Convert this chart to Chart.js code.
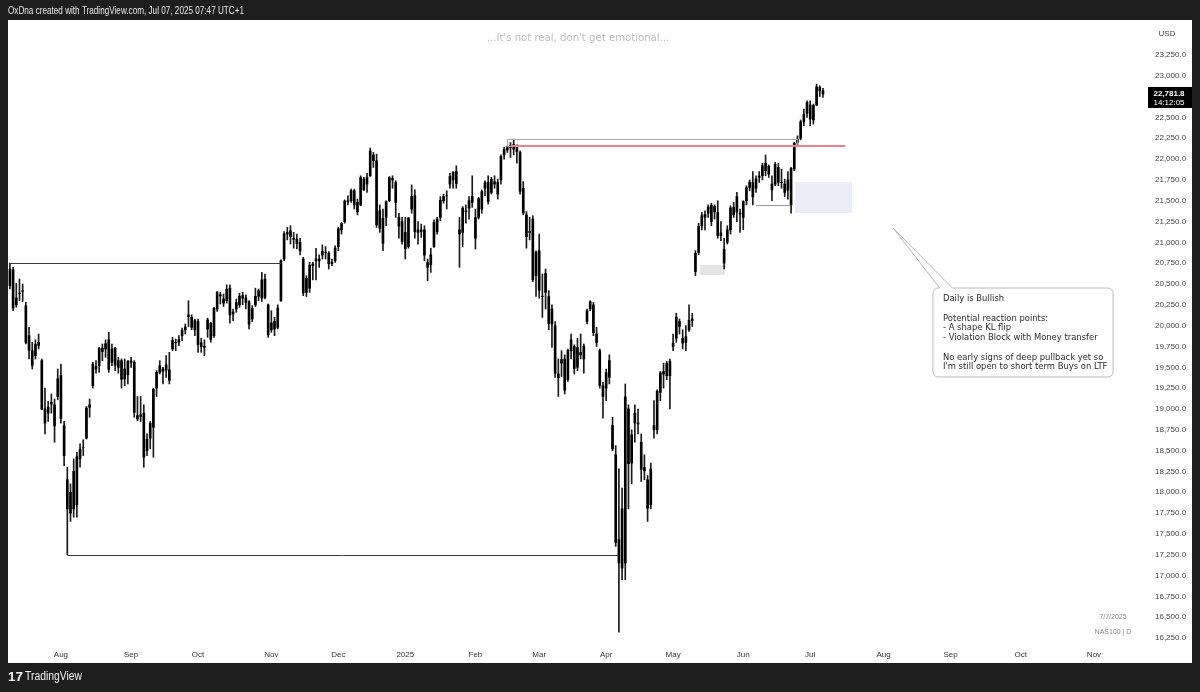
<!DOCTYPE html>
<html><head><meta charset="utf-8">
<script src="https://cdn.jsdelivr.net/npm/chart.js@4.4.1/dist/chart.umd.min.js"></script>
<style>html,body{margin:0;padding:0;background:#1e1e1e;}canvas{display:block;}</style>
</head><body>
<canvas id="c" width="1200" height="692"></canvas>
<script>
// Daily NAS100 candles, 10 Jul 2024 .. 7 Jul 2025 (index = trading day)
const opens = [
 20480,20670,20250,20390,20420,20240,19880,19700,19640,19800,19580,19000,18950,19080,19050,19150,
 19400,18800,18150,17750,18250,17850,18400,18540,18650,19050,19280,19480,19520,19730,19720,19830,19560,19730,19500,19580,19480,19410,
 19575,19560,18880,18910,18950,18500,18650,18780,19250,19440,19480,19530,19470,19720,19800,19800,19880,19950,20110,20100,19950,
 20050,19750,19740,19960,20030,19880,20200,20370,20320,20300,20450,20140,20280,20250,20330,20280,20290,20080,20250,20420,20330,20560,20250,
 19950,20050,19980,20300,20800,21100,21140,21050,21040,21000,20800,20400,20450,20720,20800,20800,20850,20880,20870,20745,20780,
 20950,21150,21250,21500,21500,21620,21480,21450,21760,21700,21800,22050,21980,21380,20990,21300,21500,21750,21720,21300,21250,
 21120,20950,21400,21560,21120,21150,21150,20700,20850,20950,21280,21300,21500,21560,21700,21750,21850,21150,21120,21380,21500,21550,
 21050,21300,21400,21650,21720,21600,21700,21580,21750,22050,22110,22140,22120,22150,22080,21650,21330,21120,21280,20600,
 20900,20350,20400,20350,20020,20000,19420,19550,19600,19350,19700,19750,19500,19650,19600,20050,20200,20250,19900,19700,19150,
 19250,19380,18800,18450,17150,17800,17150,19000,18350,18950,18820,18600,18300,18150,17850,18800,18750,19200,19450,19400,19400,
 19750,19850,20050,19850,19800,19950,20080,20650,20880,21200,21300,21350,21250,21430,21360,21080,20750,21000,21150,21420,21550,21350,
 21300,21500,21660,21720,21650,21780,21800,21950,21820,21700,21700,21900,21720,21700,21750,21450,21880,22200,22250,22450,22550,
 22650,22470,22650,22860,22820
];
const highs = [
 20750,20700,20510,20560,20500,20280,19980,19800,19830,19900,19600,19250,19090,19180,19120,19480,
 19540,18850,18300,18100,18400,18480,18580,18630,19030,19120,19560,19580,19740,19780,19830,19920,19780,19740,19620,19600,19600,19580,
 19620,19580,19150,19150,19050,18700,18850,19250,19460,19580,19500,19640,19680,19860,19840,19880,19970,20020,20300,20130,20080,
 20080,19850,19830,20090,20040,20220,20410,20400,20380,20490,20490,20200,20320,20390,20400,20370,20300,20240,20450,20440,20640,20620,20260,
 20180,20100,20250,20790,21130,21180,21200,21120,21100,21050,20820,20600,20760,20760,20930,20850,20970,20950,20890,20800,20960,
 21180,21240,21510,21560,21640,21640,21520,21800,21780,21830,22133,22080,22060,21450,21400,21500,21790,21800,21740,21350,21300,
 21300,21300,21690,21630,21250,21220,21200,20800,20930,21270,21300,21550,21580,21620,21830,21850,21920,21300,21430,21450,21550,21800,
 21400,21540,21630,21740,21800,21780,21800,21760,22050,22140,22160,22200,22240,22170,22100,21730,21370,21300,21320,20900,
 21100,20620,20680,20420,20250,20050,19600,19700,19650,19720,19900,19770,19850,19900,19780,20200,20300,20280,19980,19720,19320,
 19480,19650,18900,18560,18280,18050,19300,19050,18750,19050,19000,18700,18450,18200,18350,19100,19230,19450,19550,19570,19600,
 19900,20150,20080,19950,20000,20250,20150,20900,21230,21360,21380,21450,21470,21450,21500,21250,21050,21200,21440,21480,21600,21400,
 21500,21680,21750,21850,21800,21850,21950,22050,21930,21800,21960,21950,21880,21760,21850,21900,22200,22280,22470,22600,22700,
 22700,22660,22900,22880,22850
];
const lows = [
 20440,20180,20220,20300,20290,19780,19600,19480,19600,19720,18990,18700,18850,18950,18600,19110,
 18830,18320,17250,17650,17700,17700,18300,18440,18640,18900,19250,19430,19440,19580,19620,19440,19520,19460,19430,19250,19280,19300,
 19500,18900,18860,18850,18300,18440,18520,18420,19150,19420,19300,19380,19300,19700,19700,19760,19820,19900,19990,19950,19880,
 19680,19680,19640,19860,19800,19860,20170,20260,20230,20270,20030,20060,20160,20220,20250,20200,19960,20050,20230,20300,20290,20320,19860,
 19920,19880,19960,20290,20780,21030,20980,20930,20920,20850,20360,20350,20400,20550,20550,20700,20800,20800,20680,20720,20760,
 20900,21100,21230,21450,21480,21400,21330,21440,21620,21600,21790,21900,21180,21120,20900,21200,21490,21650,21300,21050,20980,
 20800,20930,21350,21050,20980,21060,20780,20540,20640,20940,21100,21260,21470,21400,21650,21650,21650,20700,20950,21230,21280,21420,
 20920,21280,21350,21560,21460,21580,21650,21520,21700,22000,22080,22020,22050,21950,21580,21330,20930,21030,20530,20350,
 20330,20100,20200,19950,19740,19380,19150,19390,19180,19330,19600,19420,19460,19600,19430,20020,20180,19880,19750,19250,18890,
 19100,19300,18500,17350,16320,16950,16950,17800,18100,18600,18700,18130,18150,17650,17800,18650,18700,19100,19250,19350,19000,
 19700,19800,19900,19720,19700,19930,19990,20600,20850,21150,21150,21300,21200,21280,21050,21020,20680,20980,21100,21300,21250,21120,
 21150,21450,21620,21450,21600,21720,21750,21800,21780,21500,21680,21680,21650,21550,21520,21350,21860,22150,22230,22400,22500,
 22400,22420,22640,22750,22740
];
const closes = [
 20676,20211,20332,20386,20413,19799,19706,19523,19774,19764,18997,18830,19023,19059,18796,19362,
 18885,18440,17800,18000,17800,18427,18513,18540,19010,19020,19540,19509,19727,19688,19783,19476,19720,19526,19580,19357,19360,19575,
 19560,18960,18920,18930,18421,18637,18829,19239,19439,19519,19453,19466,19344,19822,19794,19835,19945,19984,20128,19980,20061,
 19773,19794,19752,20069,19835,20208,20402,20357,20271,20440,20129,20163,20200,20354,20361,20334,20016,20207,20352,20352,20550,20340,19890,
 20033,19960,20212,20780,21102,21118,21071,21035,20985,20898,20394,20568,20726,20740,20780,20776,20893,20882,20743,20760,20930,
 21164,21226,21497,21490,21622,21449,21367,21778,21634,21780,22097,21980,21210,21170,21290,21491,21778,21768,21479,21195,21012,
 20924,21292,21551,21130,21150,21130,20847,20758,20734,21238,21128,21505,21550,21560,21794,21842,21706,21100,21411,21370,21412,21478,
 21297,21525,21611,21716,21491,21759,21727,21720,22032,22115,22140,22160,22175,22090,21614,21353,21069,21131,20551,20884,
 20425,20353,20628,20026,20201,19430,19374,19593,19225,19704,19830,19486,19737,19678,19754,20180,20287,19916,19798,19281,19278,
 19436,19581,18521,17398,17431,17090,19145,18343,18690,18830,18833,18277,18258,17808,18277,18750,19213,19432,19419,19546,19571,
 19789,20102,19992,19791,19867,20064,20062,20868,21190,21320,21335,21427,21447,21367,21080,21113,20916,21150,21414,21332,21363,21341,
 21491,21655,21720,21547,21762,21797,21920,21860,21913,21631,21937,21719,21719,21600,21626,21889,22191,22238,22447,22535,22679,
 22480,22642,22867,22820,22781.8
];
// x axis: month labels placed at the first trading-day index of each month
const monthTickIdx    = [16,38,59,82,103,124,146,166,187,208,230,251,274,295,317,340];
const monthTickLabels = ['Aug','Sep','Oct','Nov','Dec','2025','Feb','Mar','Apr','May','Jun','Jul','Aug','Sep','Oct','Nov'];
const priceTicks = [16250,16500,16750,17000,17250,17500,17750,18000,18250,18500,18750,19000,19250,19500,19750,
 20000,20250,20500,20750,21000,21250,21500,21750,22000,22250,22500,22750,23000,23250];
const lastPrice = 22781.8;
const countdown = '14:12:05';

// drawings (index, price)
const julyHigh   = {x0:0, x1:85, y:20750};
const augLow     = {x0:18, x1:190.7, y:17246};
const febRange   = {x0:156, x1:247, yTop:22241, yBot:22157};
const redLevel   = {x0:157, x1:262, y:22157};
const blueZone   = {x0:246.2, x1:264.1, yTop:21725, yBot:21353};
const greyZone   = {x0:216.4, x1:224.3, yTop:20728, yBot:20608};
const greyLine   = {x0:234, x1:244.5, y:21448};
const callout    = {tipX:277, tipY:21172, x0:289.5, x1:346, yTop:20452, yBot:19384, baseX0:291.6, baseX1:295.6};
const calloutLines = ['Daily is Bullish','','Potential reaction points:','- A shape KL flip','- Violation Block with Money transfer','','No early signs of deep pullback yet so',"I'm still open to short term Buys on LTF"];
const headerText = 'OxDna created with TradingView.com, Jul 07, 2025 07:47 UTC+1';
const subtitle = "...It's not real, don't get emotional...";
const fmt = v => v.toLocaleString('en-US',{minimumFractionDigits:1,maximumFractionDigits:1});

const bodies = closes.map((c,i)=>({x:i, y:[opens[i], c]}));
const wicks  = closes.map((c,i)=>({x:i, y:[lows[i], highs[i]]}));

function textScaled(ctx, txt, x, y, font, targetW){
  ctx.font = font;
  const w = ctx.measureText(txt).width;
  ctx.save(); ctx.translate(x,y); ctx.scale(targetW/w,1); ctx.fillText(txt,0,0); ctx.restore();
}

const frame = {
  id:'frame',
  beforeDraw(chart){
    const ctx = chart.ctx, xs = chart.scales.x, ys = chart.scales.y;
    const px = v=>xs.getPixelForValue(v), py = v=>ys.getPixelForValue(v);
    ctx.save();
    ctx.fillStyle = '#1e1e1e'; ctx.fillRect(0,0,1200,692);
    ctx.fillStyle = '#ffffff'; ctx.fillRect(8,20,1184,643);
    ctx.fillStyle = '#eaedf8';
    ctx.fillRect(px(blueZone.x0), py(blueZone.yTop), px(blueZone.x1)-px(blueZone.x0), py(blueZone.yBot)-py(blueZone.yTop));
    ctx.fillStyle = '#e5e5e5';
    ctx.fillRect(px(greyZone.x0), py(greyZone.yTop), px(greyZone.x1)-px(greyZone.x0), py(greyZone.yBot)-py(greyZone.yTop));
    ctx.restore();
  },
  afterDatasetsDraw(chart){
    const ctx = chart.ctx, xs = chart.scales.x, ys = chart.scales.y;
    const px = v=>xs.getPixelForValue(v), py = v=>ys.getPixelForValue(v);
    const hline = (a,b,y,col,w)=>{ctx.strokeStyle=col; ctx.lineWidth=w; ctx.beginPath(); const yy=Math.round(py(y))+0.5; ctx.moveTo(px(a),yy); ctx.lineTo(px(b),yy); ctx.stroke();};
    ctx.save();
    hline(julyHigh.x0, julyHigh.x1, julyHigh.y, '#3a3a3a', 1);
    hline(augLow.x0, augLow.x1, augLow.y, '#3a3a3a', 1);
    ctx.strokeStyle = '#a8a8a8'; ctx.lineWidth = 1;
    ctx.strokeRect(Math.round(px(febRange.x0))+0.5, Math.round(py(febRange.yTop))+0.5, px(febRange.x1)-px(febRange.x0), py(febRange.yBot)-py(febRange.yTop));
    hline(greyLine.x0, greyLine.x1, greyLine.y, '#9a9a9a', 1);
    ctx.strokeStyle = '#ef7f8f'; ctx.lineWidth = 2;
    ctx.beginPath(); ctx.moveTo(px(redLevel.x0), py(redLevel.y)); ctx.lineTo(px(redLevel.x1), py(redLevel.y)); ctx.stroke();
    ctx.restore();
  },
  afterDraw(chart){
    const ctx = chart.ctx, xs = chart.scales.x, ys = chart.scales.y;
    const px = v=>xs.getPixelForValue(v), py = v=>ys.getPixelForValue(v);
    ctx.save();
    const L = px(callout.x0), R = px(callout.x1), T = py(callout.yTop), B = py(callout.yBot), r = 6;
    const bx0 = px(callout.baseX0), bx1 = px(callout.baseX1), tx = px(callout.tipX), ty = py(callout.tipY);
    ctx.beginPath();
    ctx.moveTo(L+r, T); ctx.lineTo(bx0, T); ctx.lineTo(tx, ty); ctx.lineTo(bx1, T);
    ctx.lineTo(R-r, T); ctx.quadraticCurveTo(R, T, R, T+r);
    ctx.lineTo(R, B-r); ctx.quadraticCurveTo(R, B, R-r, B);
    ctx.lineTo(L+r, B); ctx.quadraticCurveTo(L, B, L, B-r);
    ctx.lineTo(L, T+r); ctx.quadraticCurveTo(L, T, L+r, T);
    ctx.closePath();
    ctx.fillStyle = '#ffffff'; ctx.fill();
    ctx.strokeStyle = '#b9b9b9'; ctx.lineWidth = 1; ctx.stroke();
    ctx.fillStyle = '#2a2a2a'; ctx.textBaseline = 'middle'; ctx.textAlign = 'left';
    ctx.font = '10px "DejaVu Sans"';
    const sz = 10*155/ctx.measureText(calloutLines[4]).width;
    ctx.font = sz.toFixed(2)+'px "DejaVu Sans"';
    calloutLines.forEach((s,i)=>{ if(s) ctx.fillText(s, L+10, T+11+i*9.75); });

    ctx.fillStyle = '#bdbdbd'; ctx.textAlign = 'center';
    ctx.font = '10px "DejaVu Sans"';
    const s2 = 10*183/ctx.measureText(subtitle).width;
    ctx.font = s2.toFixed(2)+'px "DejaVu Sans"';
    ctx.fillText(subtitle, 578, 38);

    ctx.fillStyle = '#8a8a8a'; ctx.font = '7px "Liberation Sans"'; ctx.textAlign = 'center';
    ctx.fillText('7/7/2025', 1113, 617);
    ctx.fillText('NAS100 | D', 1113, 632);

    ctx.fillStyle = '#444'; ctx.font = '8px "Liberation Sans"';
    ctx.fillText('USD', 1167, 34);

    const yp = py(lastPrice);
    ctx.fillStyle = '#000'; ctx.fillRect(1148, yp-7, 44, 21);
    ctx.fillStyle = '#fff'; ctx.textAlign = 'center';
    ctx.font = 'bold 8px "Liberation Sans"'; ctx.fillText(fmt(lastPrice), 1169, yp);
    ctx.font = '8px "Liberation Sans"'; ctx.fillText(countdown, 1169, yp+9);

    ctx.fillStyle = '#e6e6e6'; ctx.textAlign = 'left';
    textScaled(ctx, headerText, 8, 11, '11px "Liberation Sans"', 236);
    ctx.fillStyle = '#f0f0f0';
    textScaled(ctx, '17', 8, 677, 'bold 13px "Liberation Sans"', 15);
    textScaled(ctx, 'TradingView', 25, 677, '12px "Liberation Sans"', 57);
    ctx.restore();
  }
};

Chart.defaults.font.family = '"Liberation Sans", Arial, sans-serif';
new Chart(document.getElementById('c'), {
  type:'bar',
  data:{ datasets:[
    {label:'body', data:bodies, backgroundColor:'#000000', borderWidth:0, barThickness:2, grouped:false, order:0},
    {label:'wick', data:wicks, backgroundColor:'#1a1a1a', borderWidth:0, barThickness:1, grouped:false, order:1}
  ]},
  options:{
    responsive:false, animation:false, events:[],
    layout:{padding:{left:8, right:8, top:21, bottom:29}},
    plugins:{legend:{display:false}, tooltip:{enabled:false}},
    scales:{
      x:{type:'linear', min:-0.6, max:356, offset:false,
        grid:{display:false, drawTicks:false}, border:{display:false},
        afterBuildTicks:s=>{ s.ticks = monthTickIdx.map(v=>({value:v})); },
        afterFit:s=>{ s.height = 18; },
        ticks:{autoSkip:false, maxRotation:0, padding:5, color:'#333', font:{size:8},
          callback:v=>{ const k = monthTickIdx.indexOf(v); return k>=0 ? monthTickLabels[k] : ''; }}
      },
      y:{type:'linear', position:'right', min:16166, max:23658,
        grid:{display:false, drawTicks:false}, border:{display:false},
        afterBuildTicks:s=>{ s.ticks = priceTicks.map(v=>({value:v})); },
        afterFit:s=>{ s.width = 47; },
        ticks:{padding:10, color:'#444', font:{size:8}, callback:v=>fmt(v)}
      }
    }
  },
  plugins:[frame]
});
</script>
</body></html>
